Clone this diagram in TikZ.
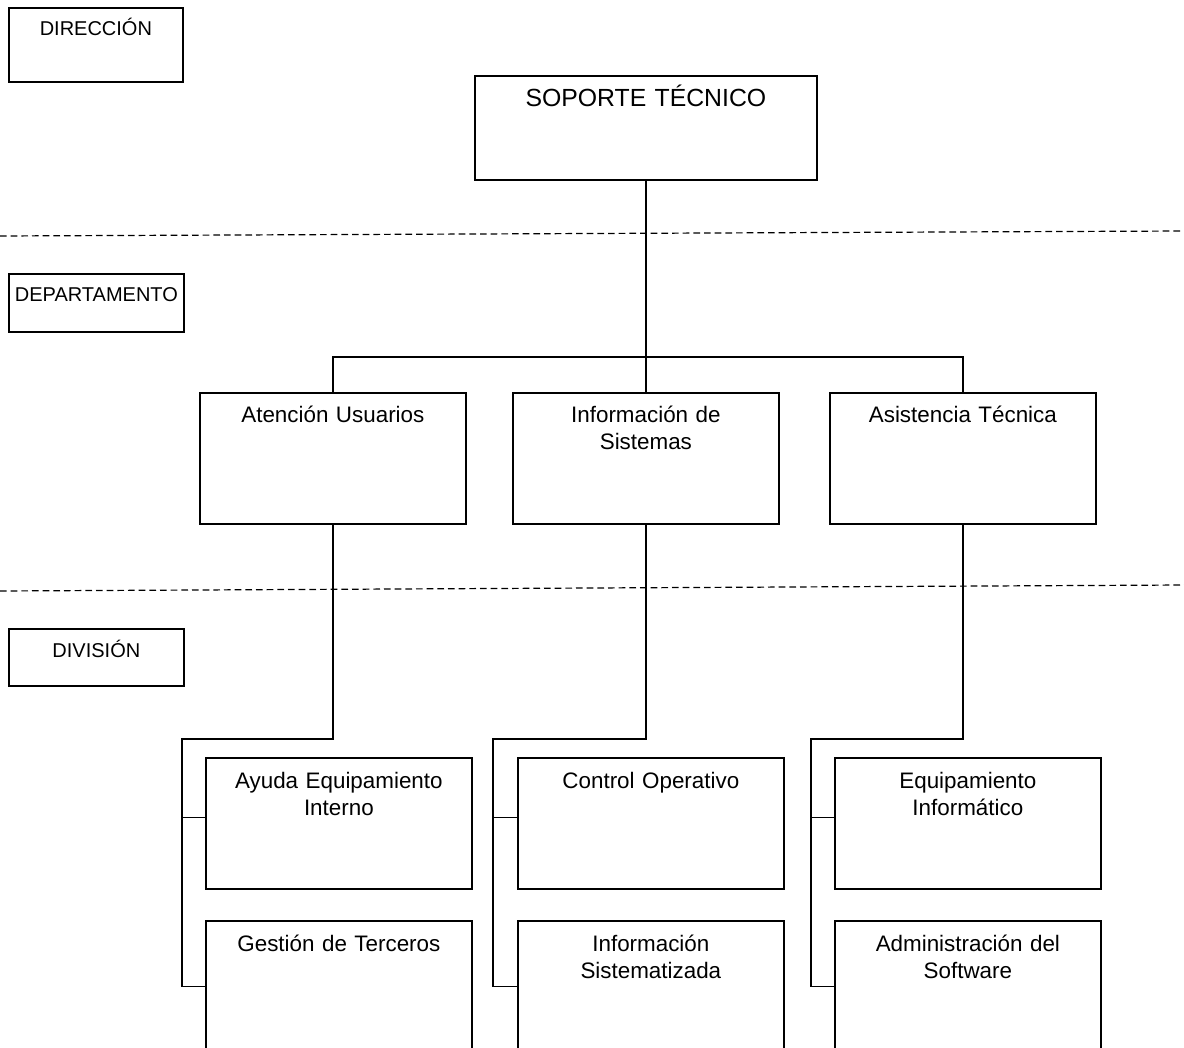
\documentclass[tikz,border=0pt]{standalone}
\usepackage{fontspec}
\setmainfont{Liberation Sans}
\usetikzlibrary{calc}

\tikzset{
  caja/.style={draw, line width=1.3pt, inner sep=0pt, anchor=north west,
    minimum width=199.5pt, minimum height=98.25pt},
  nivel/.style={caja, minimum width=131.25pt},
  rotulo/.style={anchor=base, inner sep=0pt, align=center, text width=190pt,
    font=\fontsize{16.8pt}{20.25pt}\selectfont},
  rotnivel/.style={rotulo, text width=130pt, font=\fontsize{15pt}{18pt}\selectfont},
  linea/.style={line width=1.3pt},
  corte/.style={line width=0.9pt, black, dash pattern=on 5pt off 3pt}
}

\begin{document}
\begin{tikzpicture}[x=0.75pt, y=-0.75pt]
  %%%%% START %%%%%
  \path[use as bounding box, clip] (0,0) rectangle (1184,1048);

  % niveles
  \node[nivel, minimum width=130.5pt, minimum height=55.5pt] (dir) at (8,7) {};
  \node[rotnivel] (dir-t) at ([yshift=-21.75pt]dir.north) {DIRECCIÓN};
  \node[nivel, minimum height=43.5pt] (dep) at (8,273) {};
  \node[rotnivel] (dep-t) at ([yshift=-21.75pt]dep.north) {DEPARTAMENTO};
  \node[nivel, minimum height=42.75pt] (div) at (8,628) {};
  \node[rotnivel] (div-t) at ([yshift=-21.75pt]div.north) {DIVISIÓN};

  % separadores
  \coordinate (c1i) at (0,236);  \coordinate (c1d) at (1184,231);
  \coordinate (c2i) at (0,591);  \coordinate (c2d) at (1184,585);
  \draw[corte] (c1i) -- (c1d);
  \draw[corte] (c2i) -- (c2d);

  % direccion
  \node[caja, minimum width=256.5pt, minimum height=78pt] (sop) at (474,75) {};
  \node[rotulo, text width=250pt, font=\fontsize{18.6pt}{22pt}\selectfont] (sop-t)
    at ([yshift=-24pt]sop.north) {SOPORTE TÉCNICO};

  % departamentos
  \node[caja] (aten) at (199,392) {};
  \node[rotulo] (aten-t) at ([yshift=-23pt]aten.north) {Atención Usuarios};
  \node[caja] (info) at (512,392) {};
  \node[rotulo] (info-t) at ([yshift=-23pt]info.north) {Información de\\Sistemas};
  \node[caja] (asis) at (829,392) {};
  \node[rotulo] (asis-t) at ([yshift=-23pt]asis.north) {Asistencia Técnica};

  \coordinate (barra) at (645,357);
  \draw[linea] (sop.south) -- (info.north);
  \draw[linea] (aten.north) -- (aten.north |- barra) -- (asis.north |- barra) -- (asis.north);

  % divisiones
  \node[caja] (ayud) at (205,757) {};
  \node[rotulo] (ayud-t) at ([yshift=-23.25pt]ayud.north) {Ayuda Equipamiento\\Interno};
  \node[caja] (gest) at (205,920) {};
  \node[rotulo] (gest-t) at ([yshift=-23.25pt]gest.north) {Gestión de Terceros};

  \node[caja] (ctrl) at (517,757) {};
  \node[rotulo] (ctrl-t) at ([yshift=-23.25pt]ctrl.north) {Control Operativo};
  \node[caja] (isis) at (517,920) {};
  \node[rotulo] (isis-t) at ([yshift=-23.25pt]isis.north) {Información\\Sistematizada};

  \node[caja] (equi) at (834,757) {};
  \node[rotulo] (equi-t) at ([yshift=-23.25pt]equi.north) {Equipamiento\\Informático};
  \node[caja] (adso) at (834,920) {};
  \node[rotulo] (adso-t) at ([yshift=-23.25pt]adso.north) {Administración del\\Software};

  \coordinate (ramaA) at (182,739);
  \coordinate (ramaB) at (493,739);
  \coordinate (ramaC) at (811,739);
  \draw[linea] (aten.south) |- (ramaA) |- (gest.west);
  \draw[linea] ($(ayud.west)+(0,-6)$) -- ($(ramaA |- ayud.west)+(0,-6)$);
  \draw[linea] (info.south) |- (ramaB) |- (isis.west);
  \draw[linea] ($(ctrl.west)+(0,-6)$) -- ($(ramaB |- ctrl.west)+(0,-6)$);
  \draw[linea] (asis.south) |- (ramaC) |- (adso.west);
  \draw[linea] ($(equi.west)+(0,-6)$) -- ($(ramaC |- equi.west)+(0,-6)$);
  %%%%% END %%%%%
\end{tikzpicture}
\end{document}
